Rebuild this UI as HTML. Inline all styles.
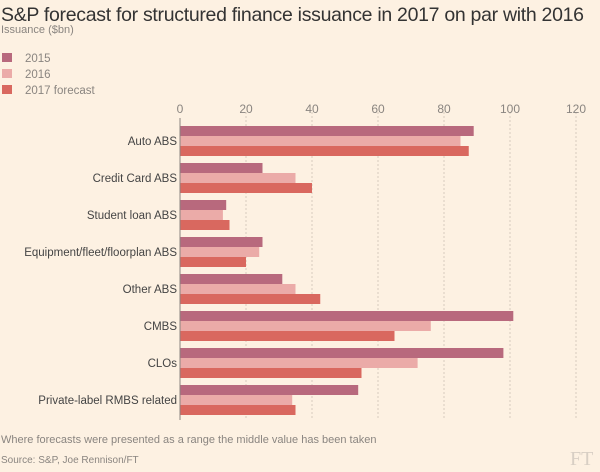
<!DOCTYPE html>
<html><head><meta charset="utf-8"><style>
body{margin:0;background:#fdf1e2;font-family:"Liberation Sans",sans-serif;}
#wrap{position:relative;width:600px;height:472px;overflow:hidden;background:#fdf1e2}
.t{position:absolute;white-space:nowrap}
</style></head><body>
<div id="wrap">
<div class="t" style="left:1px;top:4px;font-size:19.5px;color:#333;letter-spacing:-0.3px">S&amp;P forecast for structured finance issuance in 2017 on par with 2016</div>
<div class="t" style="left:1px;top:24px;font-size:11px;color:#8a8580">Issuance ($bn)</div>
<svg id="c" width="600" height="472" style="position:absolute;left:0;top:0"></svg>
<div class="t" style="left:1px;top:434px;font-size:11px;color:#8a8580">Where forecasts were presented as a range the middle value has been taken</div>
<div class="t" style="left:1px;top:455px;font-size:10px;color:#8a8580">Source: S&amp;P, Joe Rennison/FT</div>
<div class="t" style="left:570px;top:448px;font-size:20px;color:#d8cfc4;font-family:'Liberation Serif',serif">FT</div>
</div>
<script>
const categories=["Auto ABS","Credit Card ABS","Student loan ABS","Equipment/fleet/floorplan ABS","Other ABS","CMBS","CLOs","Private-label RMBS related"];
const seriesNames=["2015","2016","2017 forecast"];
const v2015=[89,25,14,25,31,101,98,54];
const v2016=[85,35,13,24,35,76,72,34];
const v2017=[87.5,40,15,20,42.5,65,55,35];
const ticks=[0,20,40,60,80,100,120];
const colors=["#b8697d","#ebaba8","#d9685f"];
const svg=document.getElementById('c');const NS="http://www.w3.org/2000/svg";
const x0=180,pxPer=3.3;const x=v=>x0+v*pxPer;
const gTop=126,gStep=37,barH=10;
function mk(t,a){const e=document.createElementNS(NS,t);for(const k in a)e.setAttribute(k,a[k]);svg.appendChild(e);return e;}
ticks.forEach(t=>{
 if(t>0){const l=mk('line',{x1:x(t),x2:x(t),y1:112,y2:420,stroke:'#d6cbbf','stroke-dasharray':'2,2','stroke-width':1});
 
 }
 const tx=mk('text',{x:x(t),y:113,'font-size':12,fill:'#8a8580','text-anchor':'middle','font-family':'Liberation Sans'});tx.textContent=t;
 
 
});
const series=[v2015,v2016,v2017];
categories.forEach((c,i)=>{
 const y0=gTop+i*gStep;
 series.forEach((s,j)=>{
  const r=mk('rect',{x:x0,y:y0+j*barH,width:x(s[i])-x0,height:barH,fill:colors[j]});
  
  
 });
 const tx=mk('text',{x:177,y:y0+19,'font-size':11.5,fill:'#444','text-anchor':'end','font-family':'Liberation Sans'});tx.textContent=c;
 
 
});
const ax=mk('line',{x1:x0,x2:x0,y1:118,y2:420,stroke:'#8a8580','stroke-width':1});


seriesNames.forEach((n,j)=>{
 const y=53+j*16;
 const r=mk('rect',{x:2,y:y,width:10,height:9,fill:colors[j]});
 
 
 const t=mk('text',{x:25,y:y+9,'font-size':11.5,fill:'#8a8580','font-family':'Liberation Sans'});t.textContent=n;
 
 
});
</script>
</body></html>
